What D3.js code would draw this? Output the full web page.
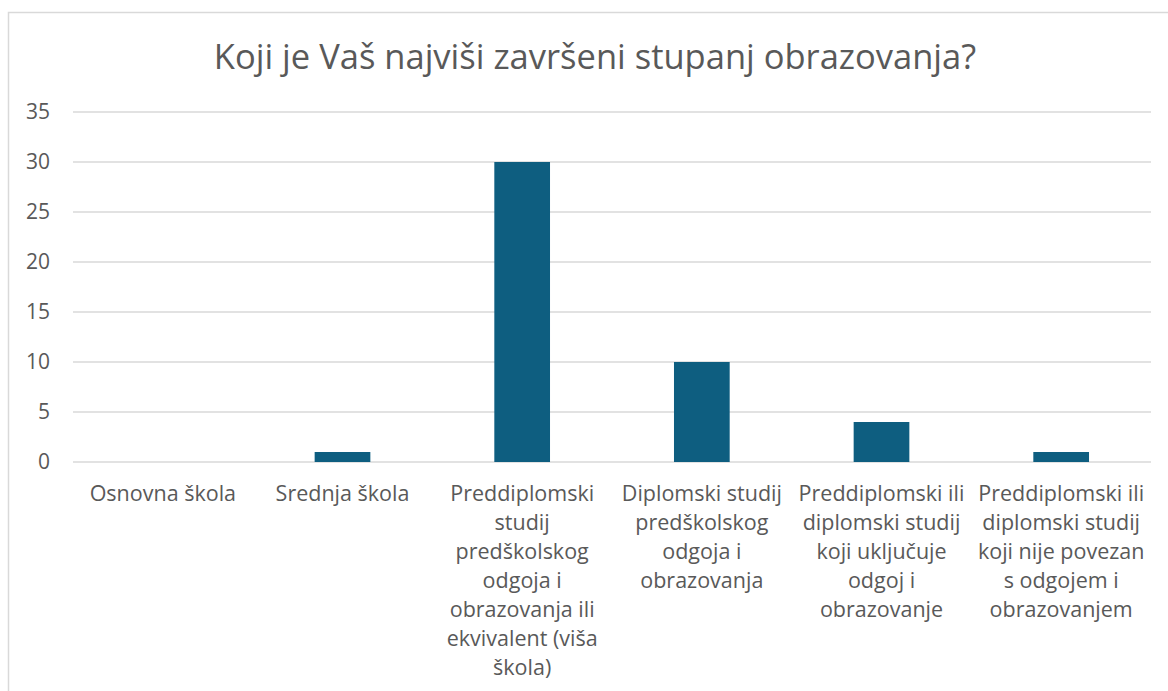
<!DOCTYPE html>
<html>
<head>
<meta charset="utf-8">
<script src="https://cdn.jsdelivr.net/npm/d3@7"></script>
<style>
  body { margin: 0; background: #fff; }
  text { font-family: "Open Sans", "Noto Sans", sans-serif; fill: #595959; }
</style>
</head>
<body>
<svg width="1168" height="691"></svg>
<script>
var categories = [
  "Osnovna škola",
  "Srednja škola",
  "Preddiplomski\nstudij\npredškolskog\nodgoja i\nobrazovanja ili\nekvivalent (viša\nškola)",
  "Diplomski studij\npredškolskog\nodgoja i\nobrazovanja",
  "Preddiplomski ili\ndiplomski studij\nkoji uključuje\nodgoj i\nobrazovanje",
  "Preddiplomski ili\ndiplomski studij\nkoji nije povezan\ns odgojem i\nobrazovanjem"
];
var values = [0, 1, 30, 10, 4, 1];
var yTicks = [0, 5, 10, 15, 20, 25, 30, 35];
var title = "Koji je Vaš najviši završeni stupanj obrazovanja?";

var svg = d3.select("svg"),
    margin = {top: 112, right: 17, bottom: 229, left: 73},
    width = svg.attr("width") - margin.left - margin.right,
    height = svg.attr("height") - margin.top - margin.bottom;

// chart frame (runs off the right and bottom edge)
svg.append("rect")
    .attr("x", 8.5).attr("y", 12.5)
    .attr("width", 1200).attr("height", 700)
    .attr("fill", "none")
    .attr("stroke", "#d9d9d9")
    .attr("stroke-width", 1.5);

svg.append("text")
    .attr("x", 595).attr("y", 69)
    .attr("text-anchor", "middle")
    .attr("font-size", 34.5)
    .text(title);

var g = svg.append("g").attr("transform", "translate(" + margin.left + "," + margin.top + ")");

var x = d3.scaleBand()
    .domain(categories)
    .range([0, width])
    .padding(0);

var y = d3.scaleLinear()
    .domain([0, 35])
    .range([height, 0]);

// gridlines
g.append("g")
  .selectAll("line")
  .data(yTicks)
  .enter().append("line")
    .attr("x1", 0).attr("x2", width)
    .attr("y1", function(d) { return y(d); })
    .attr("y2", function(d) { return y(d); })
    .attr("stroke", "#d9d9d9")
    .attr("stroke-width", 1.5);

// y labels
var yAxis = g.append("g")
    .call(d3.axisLeft(y).tickValues(yTicks).tickSize(0).tickPadding(23));
yAxis.select(".domain").remove();
yAxis.selectAll("text")
    .attr("font-size", 21)
    .attr("fill", "#595959")
    .attr("font-family", "'Open Sans', sans-serif");

var barW = x.bandwidth() * 0.31;

g.append("g")
  .selectAll("rect")
  .data(values)
  .enter().append("rect")
    .attr("x", function(d, i) { return x(categories[i]) + x.bandwidth() / 2 - barW / 2; })
    .attr("y", function(d) { return y(d); })
    .attr("width", barW)
    .attr("height", function(d) { return y(0) - y(d); })
    .attr("fill", "#0e5e80");

// category labels
var lab = g.append("g")
  .selectAll("text")
  .data(categories)
  .enter().append("text")
    .attr("text-anchor", "middle")
    .attr("font-size", 21.5)
    .attr("transform", function(d) { return "translate(" + (x(d) + x.bandwidth() / 2) + "," + (height + 39) + ")"; });

lab.selectAll("tspan")
  .data(function(d) { return d.split("\n"); })
  .enter().append("tspan")
    .attr("x", 0)
    .attr("y", function(d, i) { return i * 29; })
    .text(function(d) { return d; });
</script>
</body>
</html>
